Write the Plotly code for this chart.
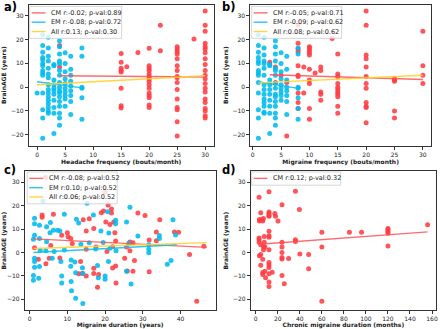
import plotly.graph_objects as go

# ---------------- data ----------------
# Panel a: headache frequency (bouts/month)
a_em_freq = [0, 1, 2, 3, 4, 5, 6, 8]
a_em_age = [
    [-2.5],
    [22, 17.5, 14.7, 12.5, 11.5, 10, 9, 7, 6, 5, -2.5, -9.5, -13, -21.5],
    [21, 16.5, 13, 11, 8, 5.5, 4, 1, -1, -2.5, -4, -5.5, -7, -8.5, -10, -11],
    [9.5, 9, 3, 1, -0.5, -1.5, -3, -5.5, -8.5, -11, -19.5],
    [19.5, 17, 14, 11, 10, 7, 5, 2, 0, -1.5, -2.5, -4, -6, -8, -11, -13, -16],
    [14.5, 10, 6.5, 3.5, 1.5, -0.5, -2, -3.5, -5, -8],
    [13, 7.5, 5, 2.5, 0.5, -1.5, -3.5, -6, -11.5],
    [16.5, 13, 0, -0.5, -4.5, -13.5],
]
a_cm_freq = [4, 15, 16, 18, 20, 22, 25, 28, 30]
a_cm_age = [
    [17.5, 8.5],
    [14.2, 10.5, 8, 7, 6.4, -0.5, -7.8, -8.8],
    [8.6],
    [14.6],
    [16.4, 9, 8, 7, 5.5, 4.5, 3.5, 2.5, 1, -0.5, -2.5, -3.5, -4.5, -7.5, -8.5],
    [26, 15.3],
    [17, 16, 15, 14, 12, 9, 7, 4.5, 4, 2, -1, -5, -8.5, -9.5, -14.5, -20.5],
    [20.3],
    [32, 26, 23.5, 18.5, 17, 16, 14.5, 12, 9.5, 7, 5, 3.5, 1.5, -0.5, -2, -5,
     -6.5, -9, -10, -12, -13],
]
a_cm_fit_x, a_cm_fit_y = [4, 30], [4.8, 4.3]
a_em_fit_x, a_em_fit_y = [0, 8], [2.3, -0.3]
a_all_fit_x, a_all_fit_y = [0, 30], [1.0, 4.8]
a_labels = ["CM r:-0.02; p-val:0.89", "EM r:-0.08; p-val:0.72", "All r:0.13; p-val:0.30"]

# Panel b: migraine frequency (bouts/month)
b_em_freq = [1, 2, 3, 4, 5, 6, 8]
b_em_age = [
    [22, 17.5, 14.7, 12.5, 11, 10, 7, 6, 5, 2, -2.5, -9.5, -13, -21.5],
    [21, 16.5, 13.5, 11, 10, 8, 5, 1, -1, -3, -5, -6.5, -8, -10.5, -11],
    [9.5, 9, 3, 1, -1, -3, -5.5, -8, -11, -19.5],
    [19.5, 17, 14, 11, 8, 7, 5, 1.5, -0.5, -3, -4, -6, -8, -11, -13, -16],
    [14.5, 10, 6.5, 3.5, 1, -0.5, -2, -3.5, -5.5],
    [13, 7.5, 3, 0, -1.5, -3.5, -6, -11.5],
    [16.5, 14, 0, -0.5, -4.5, -9, -13.5],
]
b_cm_freq = [3, 4, 5, 6, 8, 9, 10, 11, 12, 14, 15, 20, 25, 30]
b_cm_age = [
    [10.5],
    [8.5, 2],
    [5],
    [-20.5, 2],
    [26, 18.5, 16, 15, 9, 5, 4.5, -2.5, -6.5, -9],
    [8.5, -2.5],
    [17, 16.5, 15.5, 14.5, 13.5, 7.5, 3, 1.5, -9, -13.5],
    [6],
    [8.5, 7, -2, -3, -5.5],
    [20.5],
    [14, 5.5, 4.5, 1.5, 0, -1, -2, -3, -4, -8, -11],
    [32, 26, 13.5, 12, 8.5, 4.5, 1.5, -0.5, -6.5, -8, -8.5, -15],
    [3.5, 3, 2.5, -10, -13],
    [23.5, 9, 5, 1.5],
]
b_cm_fit_x, b_cm_fit_y = [3, 30], [5.2, 3.2]
b_em_fit_x, b_em_fit_y = [1, 8], [2.3, -0.5]
b_all_fit_x, b_all_fit_y = [1, 30], [1.8, 5.0]
b_labels = ["CM r:-0.05; p-val:0.71", "EM r:-0.09; p-val:0.62", "All r:0.08; p-val:0.62"]

# Panel c: migraine duration (years)
c_cm_dur = [4.2, 3.3, 3.3, 6.3, 1.3, 2.3, 4.3, 5.2, 5.6, 8, 8.5, 10, 10.2, 10.9, 11.3,
            13.5, 13, 14, 14.2, 15, 15, 15, 15.8, 17, 17, 17, 17.6, 18, 18.3, 19, 19.6,
            20, 20.2, 20.5, 20.8, 21.3, 21.7, 21.7, 22, 22, 22.3, 22.6, 22.8, 22.9,
            22.8, 25.2, 25.7, 25.9, 26.6, 26.6, 27.4, 27.4, 27.8, 28.7, 30.6, 31.7,
            31.7, 33.6, 33.6, 34.5, 38.4, 39.5, 42.4, 44.3, 46.2]
c_cm_age = [32, 16, 15, 16.3, 2, -2.9, -4.8, -2.4, 3, -2.3, 7.4, 8.4, 6.7, 6, 3.8,
            -3.8, -9.1, -8.8, 14, -10, 1.4, 9.2, 14.4, 10.3, -6.7, -9, 2.4, -14.8, -9.4,
            17, 17.7, 25.7, 13, 0.4, 20.3, 12, 18.6, 16.9, 2.5, -6.6, 13, 8.4, -5.8,
            -13, 4.9, -2.4, 2.4, -7.9, 0.7, 4.5, 4.2, -8, -3.4, 16.9, 15.8, 5.3, -8.2,
            8.8, 5, 14, 8.8, 8.6, -0.8, -20.8, 2.7]
c_em_dur = [1.3, 1.3, 1.3, 1, 1.3, 1.3, 1.3, 1, 1, 2.6, 2.6, 2.8, 2.6, 2.4, 3.5, 4.5,
            4.5, 4.3, 5.4, 5.5, 6.3, 6.5, 6, 7.4, 8, 8.3, 8.5, 8.5, 9.2, 9.2, 11, 10.9,
            11, 11.1, 12, 12.2, 12.2, 12.4, 13, 13.6, 14, 14.1, 14.1, 15.2, 15.8, 16.9,
            17.5, 18, 18.2, 18.9, 19.5, 20, 20, 20.7, 20.9, 21, 21.3, 22.8, 22.8, 22.9,
            25.7, 25.7, 26.3, 26.6, 26.9, 28.7, 31.6, 31.6, 31.6, 34.4, 34.4, 36.5,
            37.5, 38, 38.7]
c_em_age = [14.6, 12.3, 7.4, 5.7, -2.4, -3.8, -6.3, -9.8, -11.8, 11.6, 6, 1, -6,
            -11, 22, 11, 4.6, 0.7, 8.4, 12.8, 9.5, 0.4, -2.4, 9.5, 9.2, -3.8, -10, -13,
            16.3, 1.1, -3.2, -5.9, -12.4, -16.3, -4, -19.5, -8.6, 14.2, 12.6, 3.5, -6.5,
            -21.8, -9, 21, 4.2, 16, 1.5, -5.5, -10.8, 9.2, 4.3, -10, -11.4, 17.4, -3.8,
            8.3, 1.8, 13.8, 12.3, 0.8, 13, -8, 4, 19.3, -13.4, 7, 3.3, 1.4, -0.1, 7.3,
            6, -5, -3.4, 14, 7.5]
c_cm_fit_x, c_cm_fit_y = [1, 47], [5.8, 2.2]
c_em_fit_x, c_em_fit_y = [1, 39], [0.0, 3.3]
c_all_fit_x, c_all_fit_y = [1, 47], [1.7, 4.2]
c_labels = ["CM r:-0.08; p-val:0.52", "EM r:0.10; p-val:0.52", "All r:0.06; p-val:0.52"]

# Panel d: chronic migraine duration (months)
d_cm_dur = [3, 3.3, 3.3, 4.5, 5.4, 6.3, 7, 3, 3, 3, 4.5, 3.3, 4.5, 4.5, 6.3, 6.3, 6.3,
            7, 7, 7.7, 7.7, 8.3, 8.3, 8.9, 12, 12, 12, 12, 12, 12, 12, 12, 12, 12, 12,
            12, 12, 12, 12, 14.9, 17.3, 17.9, 20.2, 23.8, 23.8, 23.8, 23.8, 23.8, 23.8,
            23.8, 25.9, 29.8, 36, 36, 36, 39.6, 40, 48, 48, 60, 60, 60, 85, 96, 120,
            120, 120, 120, 120, 156]
d_cm_age = [23.6, 14.1, 13.5, 17, 14, 13.4, 14.5, 6.2, 5.4, 4.4, 3.3, -1.4, -0.8, -5.4,
            -2.9, -8.5, -9.4, 1.2, 2.6, 6.8, 4.4, 2.3, -8, -10.8, 25.9, 17.3, 16.6, 15.8,
            15.5, 9.1, 7.2, 6.5, 1.2, -4.3, -5.3, -6.4, -9.1, -12.6, -14.5, -8.4, 16.6,
            15.5, 13.4, 20.4, 4.4, 2.4, 0, -2.1, -2.8, -9.8, -13.3, -2.6, 26.2, 5.4, 4.7,
            18.4, -0.6, -0.8, -6.9, 8.7, 2.4, -20.8, 8.6, 8.6, 10.3, 9.7, 9, 8.2, 2.8,
            11.9]
d_cm_fit_x, d_cm_fit_y = [3, 156], [3.5, 8.8]
d_labels = ["CM r:0.12; p-val:0.32"]

x_titles = ["Headache frequency (bouts/month)", "Migraine frequency (bouts/month)",
            "Migraine duration (years)", "Chronic migraine duration (months)"]
y_title = "BrainAGE (years)"
panel_tags = ["a)", "b)", "c)", "d)"]


def expand(xs, groups):
    ox, oy = [], []
    for xv, ys in zip(xs, groups):
        for yv in ys:
            ox.append(xv)
            oy.append(yv)
    return ox, oy


# ---------------- styling ----------------
RED = "rgba(255,60,66,0.88)"
BLUE = "rgba(0,187,240,0.88)"
RED_LINE = "rgba(255,80,85,0.85)"
BLUE_LINE = "rgba(20,190,240,0.9)"
GOLD_LINE = "rgba(255,210,40,0.9)"
LINE_COLORS = [RED_LINE, BLUE_LINE, GOLD_LINE]
FONT = "DejaVu Sans"
W, H = 440, 329

fig = go.Figure()


def add_panel(idx, cm_xy, em_xy, fits, labels):
    xa = "x" if idx == 1 else f"x{idx}"
    ya = "y" if idx == 1 else f"y{idx}"
    fig.add_trace(go.Scatter(x=cm_xy[0], y=cm_xy[1], mode="markers", xaxis=xa, yaxis=ya,
                             marker=dict(color=RED, size=5), showlegend=False,
                             hoverinfo="skip"))
    if em_xy is not None:
        fig.add_trace(go.Scatter(x=em_xy[0], y=em_xy[1], mode="markers", xaxis=xa, yaxis=ya,
                                 marker=dict(color=BLUE, size=5), showlegend=False,
                                 hoverinfo="skip"))
    for (fx, fy), lab, col in zip(fits, labels, LINE_COLORS):
        fig.add_trace(go.Scatter(x=fx, y=fy, mode="lines", xaxis=xa, yaxis=ya,
                                 line=dict(color=col, width=1.4), name=lab,
                                 showlegend=False))


add_panel(1, expand(a_cm_freq, a_cm_age), expand(a_em_freq, a_em_age),
          [(a_cm_fit_x, a_cm_fit_y), (a_em_fit_x, a_em_fit_y), (a_all_fit_x, a_all_fit_y)],
          a_labels)
add_panel(2, expand(b_cm_freq, b_cm_age), expand(b_em_freq, b_em_age),
          [(b_cm_fit_x, b_cm_fit_y), (b_em_fit_x, b_em_fit_y), (b_all_fit_x, b_all_fit_y)],
          b_labels)
add_panel(3, (c_cm_dur, c_cm_age), (c_em_dur, c_em_age),
          [(c_cm_fit_x, c_cm_fit_y), (c_em_fit_x, c_em_fit_y), (c_all_fit_x, c_all_fit_y)],
          c_labels)
add_panel(4, (d_cm_dur, d_cm_age), None, [(d_cm_fit_x, d_cm_fit_y)], d_labels)

# axes geometry (pixels -> paper)
boxes = [  # left, right, top, bottom (px)
    (26, 213, 4.7, 147),
    (250, 433, 4.7, 147),
    (22, 215, 172.8, 313),
    (250.5, 438, 172.8, 313),
]
xranges = [[-1.5, 31.5], [-0.45, 31.45], [-1.3, 49.3], [-4.65, 163.65]]
xticks = [list(range(0, 31, 5)), list(range(0, 31, 5)), list(range(0, 41, 10)),
          list(range(0, 161, 20))]
yrange = [-24.6, 34.7]

axis_common = dict(showline=True, linecolor="#333", linewidth=0.8, mirror=True,
                   ticks="outside", ticklen=3, tickwidth=0.8, tickcolor="#333",
                   showgrid=False, zeroline=False,
                   tickfont=dict(family=FONT, size=6, color="#222"))

layout = dict(width=W, height=H, margin=dict(l=0, r=0, t=0, b=0),
              paper_bgcolor="white", plot_bgcolor="white", showlegend=False,
              font=dict(family=FONT, size=6, color="#222"))
for i, (l, r, t, b) in enumerate(boxes, start=1):
    sx = "xaxis" if i == 1 else f"xaxis{i}"
    sy = "yaxis" if i == 1 else f"yaxis{i}"
    ya = "y" if i == 1 else f"y{i}"
    xa = "x" if i == 1 else f"x{i}"
    layout[sx] = dict(domain=[l / W, r / W], anchor=ya, range=xranges[i - 1],
                      tickvals=xticks[i - 1],
                      title=dict(text=f"<b>{x_titles[i - 1]}</b>", standoff=3,
                                 font=dict(family=FONT, size=6, color="#222")),
                      **axis_common)
    layout[sy] = dict(domain=[1 - b / H, 1 - t / H], anchor=xa, range=yrange,
                      tickvals=[-20, -10, 0, 10, 20, 30],
                      title=dict(text=f"<b>{y_title}</b>", standoff=3,
                                 font=dict(family=FONT, size=6, color="#222")),
                      **axis_common)
fig.update_layout(**layout)

# ---------------- hand-drawn legends (matplotlib-like compact boxes) ----------------
legend_boxes = [  # left, top (px), width
    (27, 6.5, 93),
    (251.5, 6.5, 91),
    (24.5, 173.5, 91),
    (251.5, 173.5, 90),
]
all_labels = [a_labels, b_labels, c_labels, d_labels]
ROW = 9.4
for (lx, ly, lw), labels in zip(legend_boxes, all_labels):
    n = len(labels)
    lh = 4 + ROW * n
    fig.add_shape(type="rect", xref="paper", yref="paper",
                  x0=lx / W, x1=(lx + lw) / W, y0=1 - ly / H, y1=1 - (ly + lh) / H,
                  line=dict(color="#cccccc", width=0.8),
                  fillcolor="rgba(255,255,255,0.8)", layer="above")
    for k, (lab, col) in enumerate(zip(labels, LINE_COLORS)):
        cy = ly + 6.5 + ROW * k
        fig.add_shape(type="line", xref="paper", yref="paper",
                      x0=(lx + 2) / W, x1=(lx + 16) / W, y0=1 - cy / H, y1=1 - cy / H,
                      line=dict(color=col, width=1.4), layer="above")
        fig.add_annotation(text=lab, x=(lx + 20) / W, y=1 - cy / H, xref="paper",
                           yref="paper", xanchor="left", yanchor="middle",
                           showarrow=False,
                           font=dict(family=FONT, size=6.5, color="#222"))

tag_pos = [(0, 0), (221, 0), (0, 165), (221, 165)]
for tag, (tx, ty) in zip(panel_tags, tag_pos):
    fig.add_annotation(text=f"<b>{tag}</b>", x=tx / W, y=1 - ty / H, xref="paper",
                       yref="paper", xanchor="left", yanchor="top", showarrow=False,
                       borderpad=0, yshift=1,
                       font=dict(family=FONT, size=11.5, color="black"))

fig.write_html("out.html", config={"displayModeBar": False},
               post_script="document.body.style.margin='0px';")
